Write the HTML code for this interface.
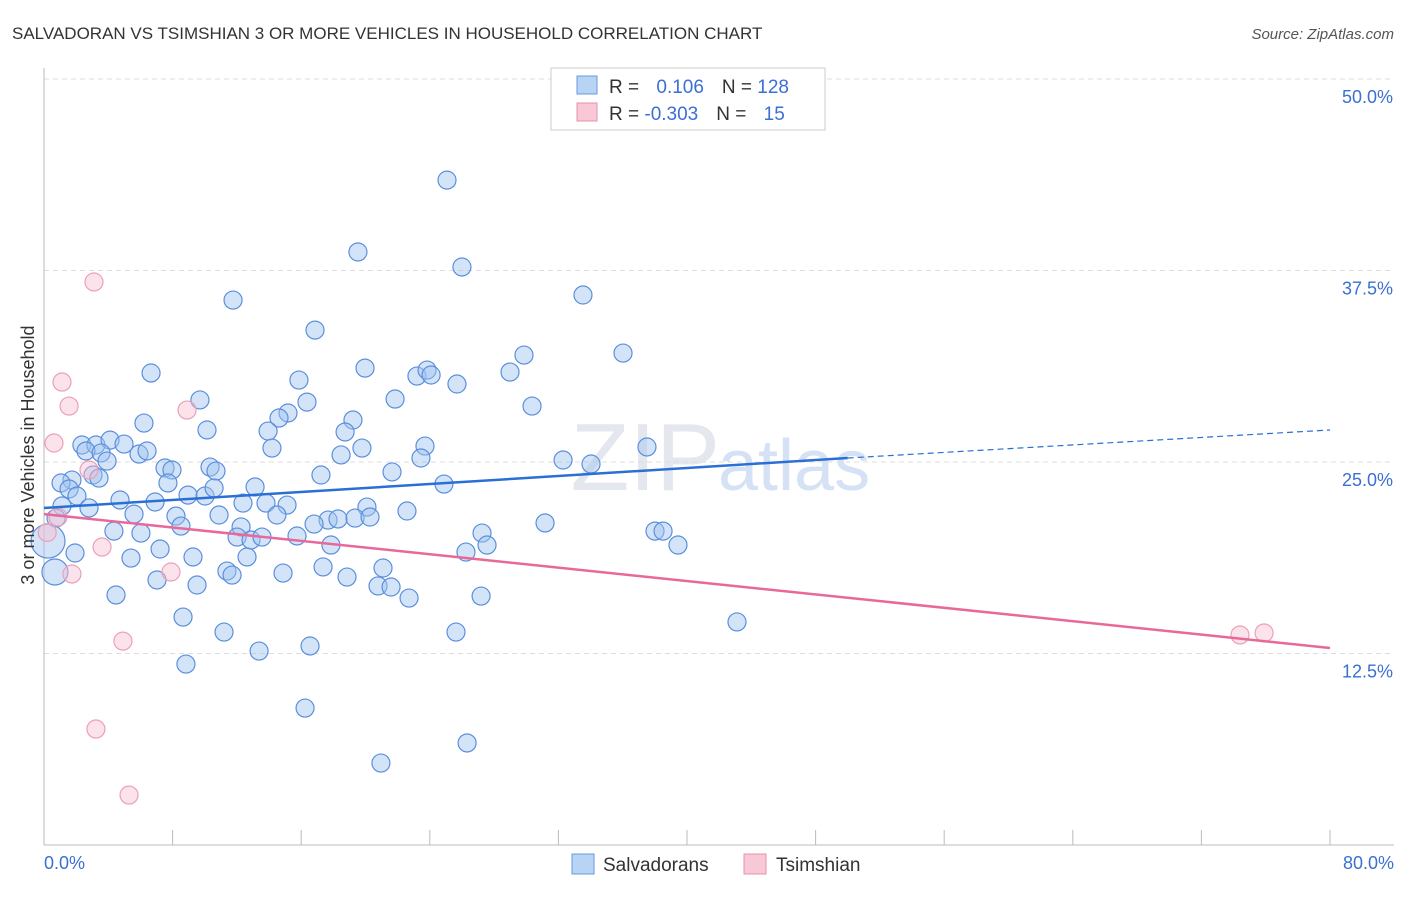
<!DOCTYPE html>
<html><head><meta charset="utf-8"><style>
body{margin:0;background:#fff;font-family:"Liberation Sans",sans-serif}
svg text{font-family:"Liberation Sans",sans-serif}
</style></head><body>
<svg id="c" width="1406" height="892" xmlns="http://www.w3.org/2000/svg">
<text x="12" y="39" font-size="17" fill="#333">SALVADORAN VS TSIMSHIAN 3 OR MORE VEHICLES IN HOUSEHOLD CORRELATION CHART</text>
<text x="1394" y="39" font-size="15" fill="#555" font-style="italic" text-anchor="end">Source: ZipAtlas.com</text>
<text x="720" y="490" font-size="96" fill="#e4e7ee" text-anchor="end" font-family="Liberation Serif">ZIP</text>
<text x="718" y="490" font-size="72" fill="#d5e2f5">atlas</text>
<g id="grid"></g><g id="axes"></g><g id="pts"></g><g id="trend"></g>
<text transform="translate(34,455) rotate(-90)" font-size="18" fill="#333" text-anchor="middle">3 or more Vehicles in Household</text>
<text x="44" y="869" font-size="18" fill="#3b6fd4">0.0%</text>
<text x="1394" y="869" font-size="18" fill="#3b6fd4" text-anchor="end">80.0%</text>
<g>
<rect x="551" y="68" width="274" height="62" fill="#fff" stroke="#ccc"/>
<rect x="577" y="76" width="20" height="18" fill="#b8d4f5" stroke="#6a9ae0"/>
<rect x="577" y="103" width="20" height="18" fill="#f9c8d6" stroke="#e890aa"/>
<text x="609" y="93" font-size="19" fill="#333">R = <tspan fill="#3b6fd4" dx="12">0.106</tspan><tspan dx="18">N = </tspan><tspan fill="#3b6fd4">128</tspan></text>
<text x="609" y="120" font-size="19" fill="#333">R = <tspan fill="#3b6fd4">-0.303</tspan><tspan dx="18">N = </tspan><tspan fill="#3b6fd4" dx="12">15</tspan></text>
</g>
<g>
<rect x="572" y="854" width="22" height="20" fill="#b8d4f5" stroke="#6a9ae0"/>
<text x="603" y="871" font-size="19" fill="#333">Salvadorans</text>
<rect x="744" y="854" width="22" height="20" fill="#f9c8d6" stroke="#e890aa"/>
<text x="776" y="871" font-size="19" fill="#333">Tsimshian</text>
</g>
</svg>
<script>
const yTicks=[12.5,25,37.5,50];
const yTickLabels=["12.5%","25.0%","37.5%","50.0%"];
const blueX=[25.07,19.53,26.00,11.76,33.53,16.86,29.86,36.02,6.66,19.97,15.86,23.20,23.83,24.08,25.69,28.99,9.70,16.36,21.84,30.36,6.22,15.18,14.62,19.22,10.14,13.94,18.73,2.36,3.23,4.11,4.98,2.61,3.55,3.92,5.91,6.41,14.18,19.78,18.48,23.70,23.45,32.29,34.03,37.51,7.53,7.96,10.33,10.70,3.05,3.42,1.74,1.06,1.56,2.05,7.71,17.23,21.65,24.88,8.96,10.02,10.58,13.13,4.73,6.91,1.12,2.80,12.38,13.81,15.12,20.09,22.58,0.75,5.60,8.21,10.89,14.49,17.67,16.80,18.29,19.35,20.28,31.17,8.52,12.26,4.35,6.03,12.01,12.88,13.56,15.74,27.25,38.01,38.51,39.44,17.85,27.56,7.22,1.93,9.27,12.63,26.25,5.41,11.38,11.70,14.87,17.36,21.09,7.03,9.52,18.85,20.78,21.59,4.48,22.71,27.19,8.65,11.20,25.63,43.11,13.38,16.55,8.83,16.24,26.32,20.96,0.25,0.68];
const blueY=[43.40,38.71,37.73,35.57,35.90,33.61,31.98,32.11,30.81,31.13,30.35,30.61,31.00,30.68,30.09,30.87,29.05,28.91,29.11,28.65,27.54,28.20,27.87,27.74,27.09,27.02,26.96,26.11,26.11,26.43,26.17,25.72,25.59,25.06,25.52,25.72,25.91,25.91,25.46,26.04,25.26,25.13,24.87,25.98,24.61,24.48,24.67,24.41,24.15,23.95,23.82,23.63,23.24,22.78,23.63,24.15,24.35,23.56,22.84,22.78,23.30,23.37,22.52,22.39,22.13,22.00,22.32,22.32,22.19,22.06,21.80,21.34,21.60,21.47,21.54,21.54,21.21,20.95,21.28,21.34,21.41,21.02,20.82,20.76,20.49,20.36,20.10,19.91,20.10,20.17,20.36,20.49,20.49,19.58,19.58,19.58,19.32,19.06,18.80,18.80,19.12,18.73,17.88,17.62,17.75,18.15,18.08,17.30,16.97,17.49,16.91,16.84,16.32,16.12,16.25,14.88,13.90,13.90,14.56,12.66,12.99,11.81,8.94,6.66,5.35,19.84,17.82];
const pinkX=[3.11,1.12,1.56,8.90,0.62,2.80,0.87,3.61,7.90,1.74,4.91,3.23,5.29,74.40,75.90,0.2];
const pinkY=[36.75,30.22,28.65,28.39,26.24,24.48,21.41,19.45,17.82,17.69,13.31,7.57,3.26,13.71,13.84,20.4];
const blueTrend=[22.0,25.26,27.09];
const blueTrendX=[0,50,80];
const pinkTrend=[21.6,12.86];
const pinkTrendX=[0,80];
const NS="http://www.w3.org/2000/svg";
const X=v=>44+v/80*1286, Y=v=>845-v/50*766;
function mk(t,a,p){const e=document.createElementNS(NS,t);for(const k in a)e.setAttribute(k,a[k]);p.appendChild(e);return e;}
const g=document.getElementById('grid'),ax=document.getElementById('axes'),pts=document.getElementById('pts'),tr=document.getElementById('trend');
yTicks.forEach((t,i)=>{
 const l=mk('line',{x1:44,x2:1394,y1:Y(t),y2:Y(t),stroke:'#ddd','stroke-dasharray':'5,4'},g);
 
 
 const tx=mk('text',{x:1393,y:Y(t)+24,'font-size':18,fill:'#3b6fd4','text-anchor':'end'},g);
 tx.textContent=yTickLabels[i];
 
 
});
const yl=mk('line',{x1:44,x2:44,y1:68,y2:845,stroke:'#bbb'},ax);


const xl=mk('line',{x1:44,x2:1394,y1:845,y2:845,stroke:'#bbb'},ax);


for(let i=0;i<=10;i++){const t=mk('line',{x1:X(i*8),x2:X(i*8),y1:830,y2:845,stroke:'#bbb'},ax);
 
 }
blueX.forEach((x,i)=>{const r=i>=blueX.length-2?(i==blueX.length-2?17:13):9;
 const c=mk('circle',{cx:X(x),cy:Y(blueY[i]),r:r,fill:'rgba(160,196,240,0.45)',stroke:'#5b8fdc','stroke-width':1.2},pts);
 
 });
pinkX.forEach((x,i)=>{const c=mk('circle',{cx:X(x),cy:Y(pinkY[i]),r:9,fill:'rgba(248,190,208,0.45)',stroke:'#eba0b8','stroke-width':1.2},pts);
 
 });
const b1=mk('line',{x1:X(blueTrendX[0]),y1:Y(blueTrend[0]),x2:X(blueTrendX[1]),y2:Y(blueTrend[1]),stroke:'#2a6fd6','stroke-width':2.5},tr);


const b2=mk('line',{x1:X(blueTrendX[1]),y1:Y(blueTrend[1]),x2:X(blueTrendX[2]),y2:Y(blueTrend[2]),stroke:'#2a6fd6','stroke-width':1.2,'stroke-dasharray':'6,4'},tr);


const p1=mk('line',{x1:X(pinkTrendX[0]),y1:Y(pinkTrend[0]),x2:X(pinkTrendX[1]),y2:Y(pinkTrend[1]),stroke:'#e8689a','stroke-width':2.5},tr);


</script>
</body></html>
